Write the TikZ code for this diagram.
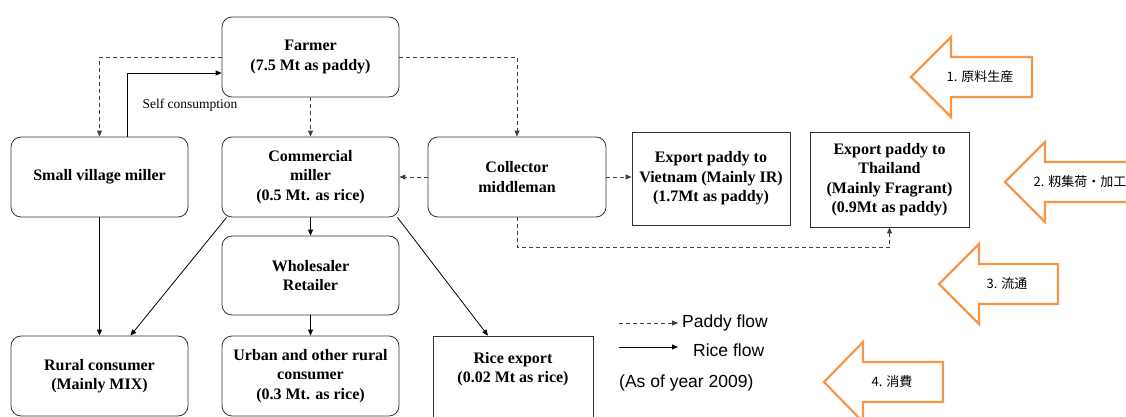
\documentclass[tikz,border=0pt]{standalone}
\usepackage{fontspec}
\setmainfont{Liberation Serif}
\newfontfamily\legendfont{Liberation Sans}
\newfontfamily\jpfont{Noto Sans CJK JP}
\usetikzlibrary{arrows.meta}
\definecolor{stageorange}{HTML}{F79646}
\tikzset{
  flowbox/.style={draw=black!80, line width=0.8pt, rounded corners=10pt, align=center,
    font=\bfseries\fontsize{16}{19.5}\selectfont, inner sep=2pt,
    minimum width=177pt, minimum height=80pt},
  exportbox/.style={flowbox, rounded corners=0pt},
  paddy/.style={draw=black!75, line width=0.9pt, dash pattern=on 4pt off 3pt,
    -{Triangle[length=6pt,width=5pt]}},
  rice/.style={draw=black, line width=0.8pt, -{Triangle[length=6pt,width=5pt]}},
  stage/.style={draw=stageorange, line width=2.2pt, fill=white, line join=miter},
  stagetext/.style={font=\jpfont\fontsize{13}{15}\selectfont, inner sep=0pt},
  legendtext/.style={font=\legendfont\fontsize{17.5}{20}\selectfont, inner sep=0pt, anchor=west},
}
\begin{document}
\begin{tikzpicture}[x=1pt, y=-1pt]
  \useasboundingbox (0,0) rectangle (1126,417);
  % boxes
  \node[flowbox] (farmer) at (310.5,57) {Farmer\\(7.5 Mt as paddy)};
  \node[flowbox] (svmiller) at (99.5,177) {Small village miller};
  \node[flowbox] (commiller) at (310.5,177) {Commercial\\miller\\(0.5 Mt. as rice)};
  \node[flowbox, minimum width=178pt] (collector) at (517,177) {Collector\\middleman};
  \node[exportbox, minimum width=158pt, minimum height=93pt] (vietnam) at (711,178.5)
    {Export paddy to\\Vietnam (Mainly IR)\\(1.7Mt as paddy)};
  \node[exportbox, minimum width=159pt, minimum height=95pt] (thailand) at (889.5,179.5)
    {Export paddy to\\Thailand\\(Mainly Fragrant)\\(0.9Mt as paddy)};
  \node[flowbox, minimum height=79pt] (wholesaler) at (310.5,275.5) {Wholesaler\\Retailer};
  \node[flowbox] (rural) at (99.5,376) {Rural consumer\\(Mainly MIX)};
  \node[flowbox] (urban) at (310.5,376) {Urban and other rural\\consumer\\(0.3 Mt. as rice)};
  \node[exportbox, minimum width=160pt, minimum height=98pt] (riceexp) at (513,385) {};
  \node[flowbox, draw=none, minimum width=0pt, minimum height=0pt] (ricelabel) at (513,369)
    {Rice export\\(0.02 Mt as rice)};

  % paddy flow
  \draw[paddy] (farmer.west) -| (svmiller.north);
  \draw[paddy] (farmer.south) -- (commiller.north);
  \draw[paddy] (farmer.east) -| (collector.north);
  \draw[paddy] (collector.west) -- (commiller.east);
  \draw[paddy] (collector.east) -- (collector.east -| vietnam.west);
  \draw[paddy] (collector.south) -- ++(0,30) -| (thailand.south);

  % rice flow
  \draw[rice] ([xshift=27.5pt]svmiller.north) |- ([yshift=-16pt]farmer.west);
  \node[font=\fontsize{13.5}{15}\selectfont, inner sep=0pt] (selfcons) at (190,105) {Self consumption};
  \draw[rice] (svmiller.south) -- (rural.north);
  \draw[rice] ([xshift=5pt]commiller.south west) -- ([xshift=31pt]rural.north);
  \draw[rice] (commiller.south) -- (wholesaler.north);
  \draw[rice] (wholesaler.south) -- (urban.north);
  \draw[rice] ([xshift=-2pt]commiller.south east) -- ([xshift=-25pt]riceexp.north);

  % legend
  \coordinate (paddyA) at (619,323); \coordinate (paddyB) at (678,323);
  \draw[paddy] (paddyA) -- (paddyB);
  \node[legendtext] (paddylab) at (682,323) {Paddy flow};
  \coordinate (riceA) at (619,347); \coordinate (riceB) at (678,347);
  \draw[rice] (riceA) -- (riceB);
  \node[legendtext] (ricelab) at (693,350) {Rice flow};
  \node[legendtext] (yearnote) at (619,383) {(As of year 2009)};

  % stage arrows
  \foreach \n/\tx/\hx/\rx/\cy/\lx/\lab in {1/911/951/1032/77/980/{1. 原料生産},
      2/1005/1045/1140/182/1080/{2. 籾集荷・加工}, 3/939/979/1058/284/1007/{3. 流通},
      4/824/863/943/382/892/{4. 消費}}{
    \draw[stage] (\tx,\cy) -- (\hx,\cy-40) -- (\hx,\cy-20) -- (\rx,\cy-20)
      -- (\rx,\cy+20) -- (\hx,\cy+20) -- (\hx,\cy+40) -- cycle;
    \node[stagetext] (stage\n) at (\lx,\cy) {\lab};
  }
\end{tikzpicture}
\end{document}
